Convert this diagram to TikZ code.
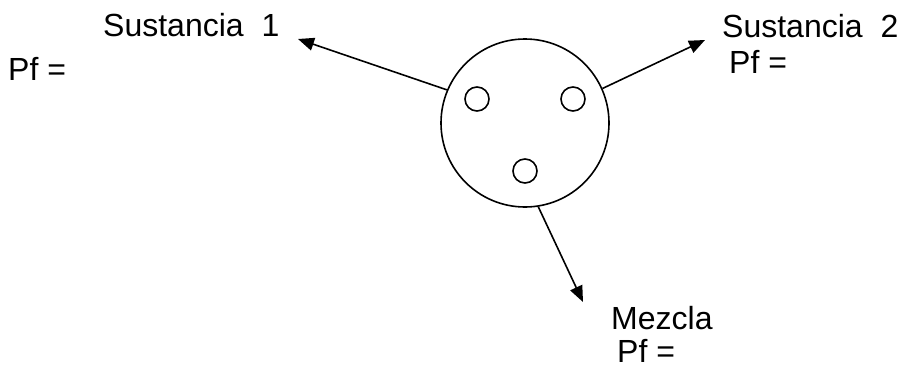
\documentclass[tikz,border=0pt]{standalone}
\usepackage{fontspec}
\setmainfont{Liberation Sans}
\usetikzlibrary{arrows.meta}
\begin{document}
\begin{tikzpicture}[x=1pt,y=-1pt,
  lbl/.style={anchor=base west,inner sep=0pt,font=\fontsize{32}{38}\selectfont},
  ring/.style={draw,circle,line width=1.6pt,inner sep=0pt},
  arr/.style={line width=1.6pt,-{Triangle[length=16pt,width=13pt]}}]
\useasboundingbox (0,0) rectangle (910,370);
\node[ring,minimum size=168pt] (big) at (525,123) {};
\node[ring,minimum size=24pt] (c1) at (477,99) {};
\node[ring,minimum size=24pt] (c2) at (573,99) {};
\node[ring,minimum size=24pt] (c3) at (525,171) {};
\node[lbl] (s1) at (103,36) {Sustancia\hspace{17.8pt}1};
\node[lbl] (pf1) at (8,80) {Pf =};
\node[lbl] (s2) at (722,37) {Sustancia\hspace{17.8pt}2};
\node[lbl] (pf2) at (729,73) {Pf =};
\node[lbl] (mz) at (611,329) {Mezcla};
\node[lbl] (pf3) at (617,362) {Pf =};
\coordinate (t1) at (298,39);
\coordinate (t2) at (705,40);
\coordinate (t3) at (583,302);
\draw[arr] (big.157) -- (t1);
\draw[arr] (big.24) -- (t2);
\draw[arr] (big.-81) -- (t3);
\end{tikzpicture}
\end{document}
